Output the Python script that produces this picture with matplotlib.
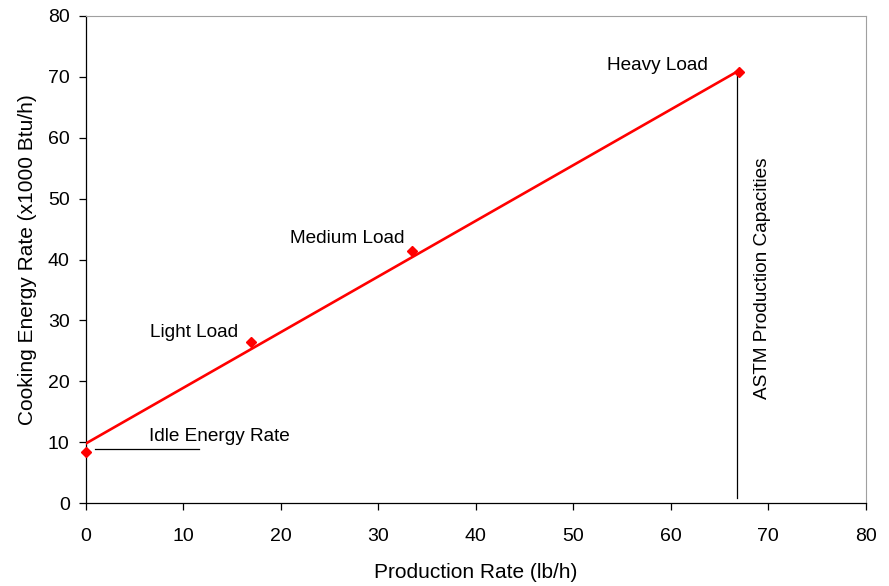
import numpy as np
import matplotlib
matplotlib.use('Agg')
import matplotlib.pyplot as plt
from matplotlib import rcParams

rcParams['font.family'] = ['Liberation Sans', 'DejaVu Sans']
rcParams['font.size'] = 12

# measured test points
prod_rate = [0.0, 17.0, 33.5, 67.0]
energy_rate = [8.5, 26.4, 41.4, 70.7]
labels = ["Idle Energy Rate", "Light Load", "Medium Load", "Heavy Load"]
label_pos = [(6.5, 11.0), (6.6, 28.1), (21.0, 43.4), (53.5, 71.8)]

# fitted line endpoints
fit_x = [0.0, 67.0]
fit_y = [9.8, 71.0]

capacity = 66.8

fig = plt.figure(figsize=(8.89, 5.86), dpi=100)
ax = fig.add_axes([0.0964, 0.1411, 0.8774, 0.8321])

ax.plot(fit_x, fit_y, color='#ff0000', lw=1.9, zorder=3)
ax.plot(prod_rate, energy_rate, 'D', color='#ff0000', markersize=4.8, zorder=4, clip_on=False)

# leader for idle rate and capacity marker
ax.plot([0.95, 11.6], [8.86, 8.86], color='black', lw=0.9)
ax.plot([capacity, capacity], [0.8, 70.8], color='black', lw=0.9)

for txt, (tx, ty) in zip(labels, label_pos):
    ax.text(tx, ty, txt, va='center', ha='left', fontsize=13.7)
ax.text(69.4, 37, "ASTM Production Capacities", rotation=90, va='center', ha='center', fontsize=13.7)

ax.set_xlim(0, 80)
ax.set_ylim(0, 80)
ax.set_xticks(np.arange(0, 81, 10))
ax.set_yticks(np.arange(0, 81, 10))
ax.tick_params(direction='out', length=5, width=0.9, labelsize=14)
ax.tick_params(axis='x', pad=13)
ax.tick_params(axis='y', pad=6.5)
ax.spines['top'].set_color('#a0a0a0')
ax.spines['right'].set_color('#a0a0a0')
for s in ['left', 'bottom']:
    ax.spines[s].set_linewidth(0.9)
ax.set_xlabel("Production Rate (lb/h)", fontsize=15, labelpad=13)
ax.set_ylabel("Cooking Energy Rate (x1000 Btu/h)", fontsize=15, labelpad=8)

fig.savefig('out.png', dpi=100)
